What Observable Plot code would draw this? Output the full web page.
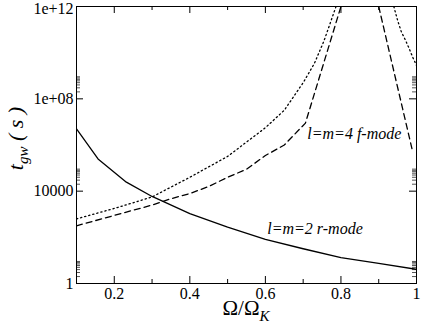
<!DOCTYPE html>
<html><head><meta charset="utf-8">
<script src="https://cdn.jsdelivr.net/npm/d3@7"></script>
<script src="https://cdn.jsdelivr.net/npm/@observablehq/plot@0.6"></script>
<style>
body{margin:0;background:#fff}
svg{display:block}
svg, svg text { font-family: "Liberation Serif", "Times New Roman", Times, "DejaVu Serif", serif !important; }
</style>
</head><body><div id="chart"></div>
<script>
// l=m=2 r-mode (solid)
const omegaR = [0.1, 0.157, 0.232, 0.3, 0.4, 0.5, 0.6, 0.7, 0.8, 0.9, 1.0];
const tR     = [5.0e6, 2.5e5, 2.45e4, 5900, 1070, 275, 81, 32, 13.2, 7.4, 4.1];
// l=m=4 f-mode (dashed), two branches
const omegaF1 = [0.1, 0.2, 0.3, 0.35, 0.4, 0.45, 0.5, 0.55, 0.6, 0.65, 0.706, 0.8];
const tF1     = [316, 890, 2500, 4700, 7900, 1.6e4, 4.0e4, 8.9e4, 3.5e5, 1.0e6, 8.9e6, 1e12];
const omegaF2 = [0.9, 0.99];
const tF2     = [1e12, 5.0e5];
// dotted curve, two branches
const omegaD1 = [0.1, 0.2, 0.3, 0.4, 0.5, 0.6, 0.65, 0.7, 0.73, 0.755, 0.77, 0.787];
const tD1     = [630, 1780, 5600, 4.0e4, 3.2e5, 5.6e6, 3.2e7, 5.0e8, 3.5e9, 3.2e10, 1.6e11, 1e12];
const omegaD2 = [0.94, 0.95, 0.96, 0.97, 0.98, 0.99, 1.0];
const tD2     = [1e12, 2.5e11, 7.9e10, 3.7e10, 1.6e10, 6.3e9, 2.8e9];

const xMajor = [0.2, 0.4, 0.6, 0.8, 1.0];
const xMinor = [0.3, 0.5, 0.7, 0.9];
const xTickLabels = ["0.2", "0.4", "0.6", "0.8", "1"];
const yMajor = [1, 1e4, 1e8, 1e12];
const yTickLabels = ["1", "10000", "1e+08", "1e+12"];
const yMinorBases = [1, 1e4, 1e8];
const yMinorMult = [2, 3, 4, 5, 6, 7, 8, 9];
const yMinor = yMinorBases.flatMap(b => yMinorMult.map(m => b * m));

const labels = [
  {x: 0.711, y: 10 ** 6.5, text: "l=m=4 f-mode"},
  {x: 0.605, y: 10 ** 2.38, text: "l=m=2 r-mode"}
];

const pts = (xs, ys) => xs.map((x, i) => ({x, y: ys[i]}));
const xLab = xMajor.map((v, i) => ({v, t: xTickLabels[i]}));
const yLab = yMajor.map((v, i) => ({v, t: yTickLabels[i]}));

const FONT = '"Liberation Serif", "Times New Roman", Times, serif';
const W = 421, H = 327, mL = 76, mR = 5, mT = 6, mB = 44;
const fw = W - mL - mR, fh = H - mT - mB;
const majLen = 7, minLen = 4;

const plot = Plot.plot({
  width: W, height: H,
  marginLeft: mL, marginRight: mR, marginTop: mT, marginBottom: mB,
  style: {fontFamily: FONT, fontSize: "15px", background: "white", color: "black"},
  x: {domain: [0.1, 1], axis: null},
  y: {type: "log", domain: [1, 1e12], axis: null},
  marks: [
    Plot.text(xLab, {x: "v", text: "t", frameAnchor: "bottom", lineAnchor: "top", dy: 4, fontSize: 16, fill: "black"}),
    Plot.text(yLab.filter(d => d.v < 1e12), {y: "v", text: "t", frameAnchor: "left", textAnchor: "end", dx: -3, fontSize: 16, fill: "black"}),
    Plot.text(yLab.filter(d => d.v >= 1e12), {y: "v", text: "t", frameAnchor: "left", textAnchor: "end", dx: -3, dy: 2, fontSize: 16, fill: "black"}),
    Plot.tickY(yMajor, {y: d => d, insetRight: fw - majLen, stroke: "black"}),
    Plot.tickY(yMajor, {y: d => d, insetLeft: fw - majLen, stroke: "black"}),
    Plot.tickY(yMinor, {y: d => d, insetRight: fw - minLen, stroke: "#555"}),
    Plot.tickY(yMinor, {y: d => d, insetLeft: fw - minLen, stroke: "#555"}),
    Plot.tickX(xMajor, {x: d => d, insetTop: fh - majLen, stroke: "black"}),
    Plot.tickX(xMajor, {x: d => d, insetBottom: fh - majLen, stroke: "black"}),
    Plot.tickX(xMinor, {x: d => d, insetTop: fh - minLen, stroke: "black"}),
    Plot.tickX(xMinor, {x: d => d, insetBottom: fh - minLen, stroke: "black"}),
    Plot.line(pts(omegaR, tR), {x: "x", y: "y", stroke: "black", strokeWidth: 1.3, clip: true}),
    Plot.line(pts(omegaF1, tF1), {x: "x", y: "y", stroke: "black", strokeWidth: 1.3, strokeDasharray: "6,4", clip: true}),
    Plot.line(pts(omegaF2, tF2), {x: "x", y: "y", stroke: "black", strokeWidth: 1.3, strokeDasharray: "6,4", clip: true}),
    Plot.line(pts(omegaD1, tD1), {x: "x", y: "y", stroke: "black", strokeWidth: 1.3, strokeDasharray: "1.3,2.9", clip: true}),
    Plot.line(pts(omegaD2, tD2), {x: "x", y: "y", stroke: "black", strokeWidth: 1.3, strokeDasharray: "1.3,2.9", clip: true}),
    Plot.text(labels, {x: "x", y: "y", text: "text", textAnchor: "start", fontStyle: "italic", fontSize: 16, fill: "black"}),
    Plot.frame({stroke: "black"})
  ]
});
document.getElementById("chart").appendChild(plot);

const svg = d3.select(plot);
// x axis title: Ω/Ω_K
const xt = svg.append("text")
  .attr("x", mL + fw / 2).attr("y", 315)
  .attr("text-anchor", "middle")
  .attr("font-family", FONT)
  .attr("font-size", 21).attr("fill", "black");
xt.append("tspan").text("Ω/Ω");
xt.append("tspan").attr("font-size", 15).attr("font-style", "italic").attr("dy", 6).text("K");
// y axis title: t_gw (s)
const yt = svg.append("text")
  .attr("transform", `translate(23,${mT + fh / 2 - 6}) rotate(-90)`)
  .attr("text-anchor", "middle")
  .attr("font-family", FONT)
  .attr("font-style", "italic")
  .attr("font-size", 22).attr("fill", "black");
yt.append("tspan").text("t");
yt.append("tspan").attr("font-size", 15).attr("dy", 5).text("gw");
yt.append("tspan").attr("dy", -5).text(" ( s )");
</script>
</body></html>
